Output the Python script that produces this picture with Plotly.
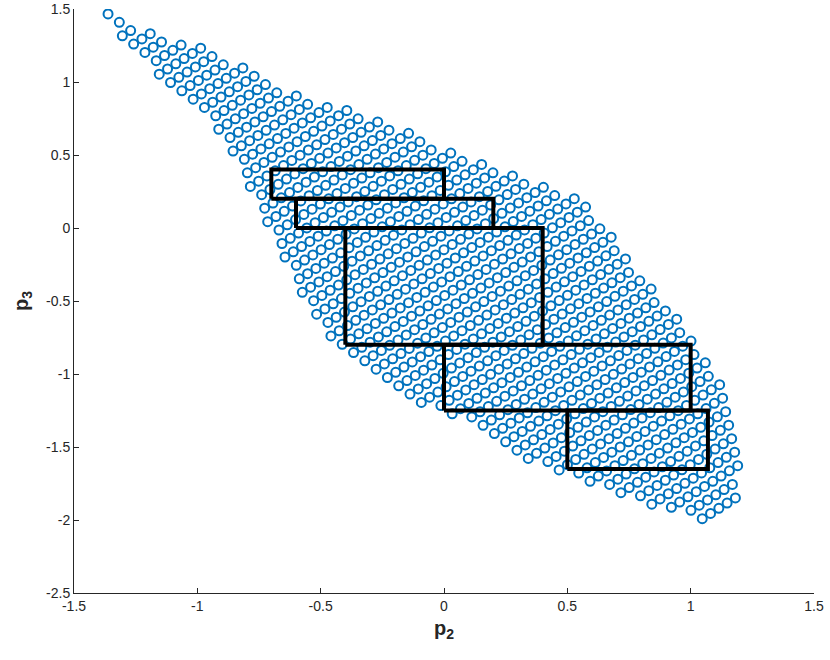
import numpy as np
import plotly.graph_objects as go

# ---- data ----
# boundary of the sampled (p2, p3) set (upper edge then lower edge)
region_p2 = [-1.37, -1.19, -0.949, -0.83, -0.726, -0.604, -0.381, -0.162, -0.029, 0.085,
             0.186, 0.308, 0.421, 0.511, 0.592, 0.652, 0.733, 0.815, 0.875, 0.977, 1.058,
             1.110, 1.159, 1.205, 1.205, 1.185, 1.090,
             0.936, 0.835, 0.733, 0.624, 0.531, 0.421, 0.348, 0.247, 0.105, -0.016, -0.138,
             -0.247, -0.353, -0.462, -0.564, -0.624, -0.714, -0.807, -0.839, -0.941, -1.034,
             -1.151, -1.232, -1.314]
region_p3 = [1.475, 1.35, 1.219, 1.116, 1.014, 0.911, 0.808, 0.685, 0.548, 0.500,
             0.432, 0.363, 0.295, 0.226, 0.123, -0.014, -0.151, -0.356, -0.493, -0.664, -0.870,
             -1.041, -1.247, -1.452, -1.658, -1.863, -2.010,
             -1.945, -1.897, -1.842, -1.774, -1.705, -1.637, -1.589, -1.486, -1.349, -1.247, -1.178,
             -1.041, -0.938, -0.767, -0.493, -0.288, 0.021, 0.363, 0.432, 0.705, 0.877,
             1.014, 1.185, 1.322]
# sampling lattice: origin and two step vectors (p2, p3)
lattice_origin = [-1.362, 1.466]
lattice_step_a = [0.0336, 0.0356]
lattice_step_b = [0.0122, -0.0925]

# boxes: p2 min, p2 max, p3 min, p3 max
box_p2_min = [-0.7, -0.6, -0.4, 0.0, 0.5]
box_p2_max = [0.0, 0.2, 0.4, 1.0, 1.07]
box_p3_min = [0.2, 0.0, -0.8, -1.25, -1.65]
box_p3_max = [0.4, 0.2, 0.0, -0.8, -1.25]

x_ticks = [-1.5, -1, -0.5, 0, 0.5, 1, 1.5]
y_ticks = [-2.5, -2, -1.5, -1, -0.5, 0, 0.5, 1, 1.5]


def inside(px, py, vx, vy):
    vx = np.asarray(vx); vy = np.asarray(vy)
    res = np.zeros(px.shape, dtype=bool)
    n = len(vx)
    j = n - 1
    for i in range(n):
        cond = ((vy[i] > py) != (vy[j] > py))
        xint = (vx[j] - vx[i]) * (py - vy[i]) / (vy[j] - vy[i] + 1e-12) + vx[i]
        res ^= cond & (px < xint)
        j = i
    return res


ii, jj = np.meshgrid(np.arange(-130, 131), np.arange(-10, 80))
ii = ii.ravel(); jj = jj.ravel()
P2 = lattice_origin[0] + ii * lattice_step_a[0] + jj * lattice_step_b[0]
P3 = lattice_origin[1] + ii * lattice_step_a[1] + jj * lattice_step_b[1]
keep = inside(P2, P3, region_p2, region_p3)
P2 = P2[keep]; P3 = P3[keep]

fig = go.Figure()
fig.add_trace(go.Scatter(
    x=P2, y=P3, mode="markers",
    marker=dict(symbol="circle-open", size=9, color="#0072BD",
                line=dict(width=2, color="#0072BD")),
    showlegend=False, hoverinfo="skip"))

for k in range(len(box_p2_min)):
    x0, x1, y0, y1 = box_p2_min[k], box_p2_max[k], box_p3_min[k], box_p3_max[k]
    fig.add_trace(go.Scatter(
        x=[x0, x1, x1, x0, x0], y=[y0, y0, y1, y1, y0], mode="lines",
        line=dict(color="black", width=4), showlegend=False, hoverinfo="skip"))

axis_common = dict(showgrid=False, zeroline=False, showline=True, linecolor="#262626",
                   linewidth=1, ticks="inside", ticklen=5, tickcolor="#262626",
                   tickfont=dict(family="Liberation Sans, Arial", size=14, color="#262626"),
                   mirror=False, automargin=False)
fig.update_layout(
    width=830, height=660,
    margin=dict(l=74, r=16, t=9, b=67),
    plot_bgcolor="white", paper_bgcolor="white",
    xaxis=dict(range=[-1.5, 1.5], tickvals=x_ticks,
               ticktext=[f"{v:g}" for v in x_ticks],
               title=dict(text="<b>p<sub>2</sub></b>", standoff=8,
                          font=dict(family="Liberation Sans, Arial", size=20, color="#262626")),
               **axis_common),
    yaxis=dict(range=[-2.5, 1.5], tickvals=y_ticks,
               ticktext=[f"{v:g}" for v in y_ticks],
               title=dict(text="<b>p<sub>3</sub></b>", standoff=12,
                          font=dict(family="Liberation Sans, Arial", size=20, color="#262626")),
               **axis_common),
)
fig.write_html("out.html", config={"displayModeBar": False},
               post_script="document.body.style.margin='0';document.body.style.overflow='hidden';")
